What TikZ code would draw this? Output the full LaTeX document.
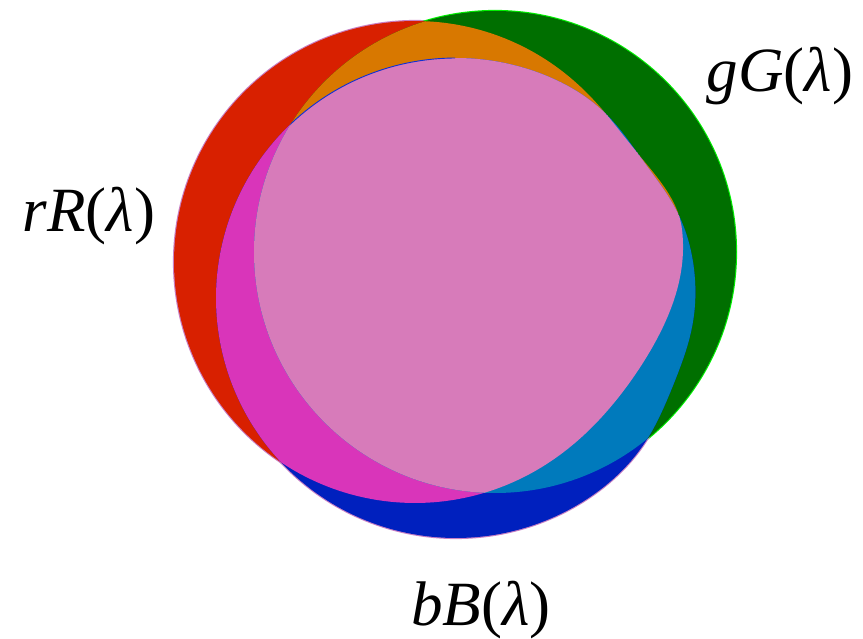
\documentclass[tikz,border=0pt]{standalone}
\usepackage{fontspec}
\setmainfont{Liberation Serif}
\definecolor{cRed}{HTML}{D82000}
\definecolor{cOrange}{HTML}{D87800}
\definecolor{cGreen}{HTML}{006F00}
\definecolor{cMagenta}{HTML}{D935BA}
\definecolor{cCyan}{HTML}{007ABC}
\definecolor{cBlue}{HTML}{0020BE}
\definecolor{cPink}{HTML}{D77BBA}
\definecolor{cLime}{HTML}{00F000}
\definecolor{cEdge}{HTML}{C880C4}
\definecolor{cLine}{HTML}{1030D0}
\tikzset{
  declare function={
    radR(\t)=241+28*exp(max(-((\t+7)/ifthenelse(\t<-7,16,28))^2,-10));
    radB(\t)=240-8*exp(max(-((\t+36)/14)^2,-10))-6*exp(max(-((\t-22)/15)^2,-10));
  },
  lbl/.style={anchor=base, inner sep=0pt, font=\fontsize{63}{63}\selectfont},
  edge/.style={line width=2.2pt}
}
\newcommand{\Rpath}{plot[domain=-187:173, samples=240, variable=\t] ({415+radR(\t)*cos(\t)}, {262+radR(\t)*sin(\t)}) -- cycle}
\newcommand{\Gpath}{(495,252) circle[radius=241]}
\newcommand{\Bpath}{plot[domain=-180:180, samples=240, variable=\t] ({456+radB(\t)*cos(\t)}, {298+radB(\t)*sin(\t)}) -- cycle}
\begin{document}
\begin{tikzpicture}[x=1pt,y=-1pt]
\useasboundingbox (0,0) rectangle (863,639);
% outer outlines
\draw[edge, cEdge] \Rpath;
\draw[edge, cLime] \Gpath;
\draw[edge, cEdge] \Bpath;
% single fills
\fill[cRed] \Rpath;
\fill[cGreen] \Gpath;
\fill[cBlue] \Bpath;
% pairwise overlaps
\begin{scope}
  \clip \Rpath;
  \fill[cOrange] \Gpath;
  \fill[cMagenta] \Bpath;
\end{scope}
\begin{scope}
  \clip \Gpath;
  \fill[cCyan] \Bpath;
\end{scope}
% triple overlap
\begin{scope}
  \clip \Rpath;
  \clip \Gpath;
  \fill[cPink] \Bpath;
\end{scope}
% thin blue edge of B seen at the upper left of the pink region
\begin{scope}
  \clip (280,40) rectangle (455,130);
  \clip \Rpath;
  \clip \Gpath;
  \draw[cLine, line width=0.9pt] \Bpath;
\end{scope}
% labels
\node[lbl] (lr) at (89,232) {\textit{rR}(\textit{λ})};
\node[lbl] (lg) at (780,92) {\textit{gG}(\textit{λ})};
\node[lbl] (lb) at (481,625) {\textit{bB}(\textit{λ})};
\end{tikzpicture}
\end{document}
